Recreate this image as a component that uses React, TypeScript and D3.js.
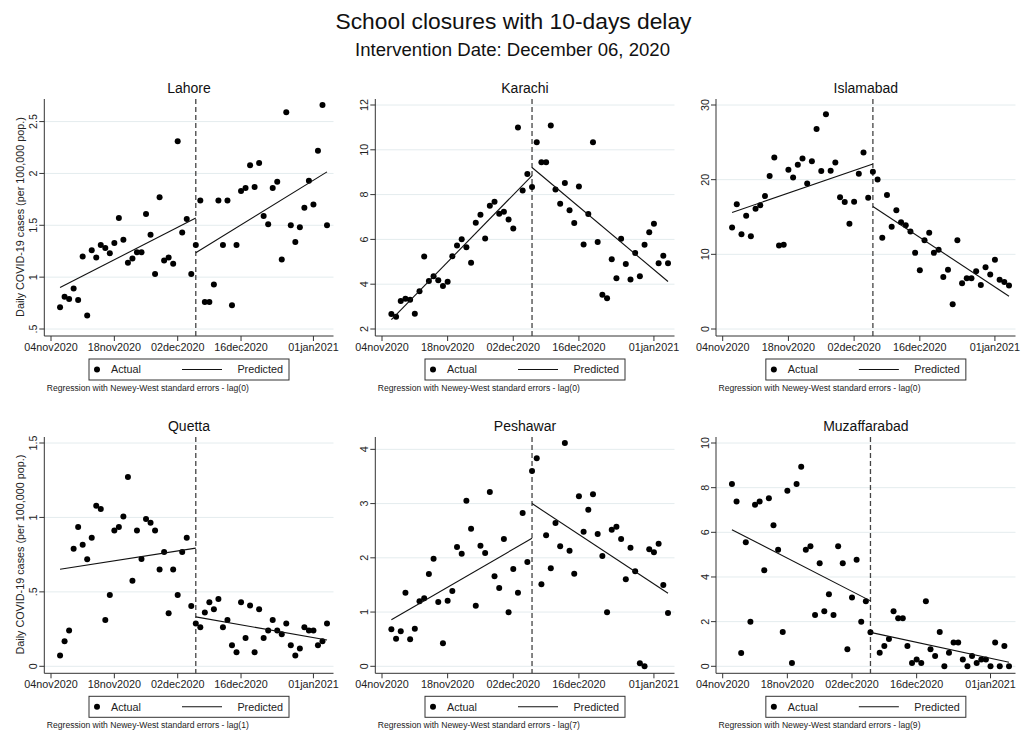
import React from "react";
import * as d3 from "d3";

const parseDate = d3.utcParse("%Y-%m-%d");
const AXIS_START = parseDate("2020-11-04") as Date;
const FIRST_DATE = parseDate("2020-11-06") as Date;
const INTERVENTION = parseDate("2020-12-06") as Date;
const xTickDates = ["2020-11-04", "2020-11-18", "2020-12-02", "2020-12-16", "2021-01-01"];

// Daily values, one per day from 06nov2020 (null = missing day)
const lahoreActual = [
  0.71, 0.81, 0.79, 0.89, 0.78, 1.2, 0.63, 1.26, 1.19, 1.31,
  1.28, 1.23, 1.33, 1.57, 1.36, 1.14, 1.18, 1.24, 1.24, 1.61,
  1.41, 1.03, 1.77, 1.16, 1.19, 1.13, 2.31, 1.43, 1.56, 1.03,
  1.31, 1.74, 0.76, 0.76, 0.93, 1.74, 1.31, 1.74, 0.73, 1.31,
  1.83, 1.86, 2.08, 1.87, 2.1, 1.59, 1.51, 1.86, 1.92, 1.17,
  2.59, 1.5, 1.34, 1.48, 1.67, 1.93, 1.7, 2.22, 2.66, 1.5,
];
const lahorePredPre = [0.9, 1.57];
const lahorePredPost = [1.235, 2.015];

const karachiActual = [
  2.67, 2.55, 3.25, 3.35, 3.31, 2.68, 3.69, 5.24, 4.14, 4.35,
  4.18, 3.92, 4.11, 5.25, 5.73, 6.01, 5.65, 4.96, 6.74, 7.1,
  6.04, 7.5, 7.68, 7.14, 7.23, 6.89, 6.49, 11.0, 8.18, 8.92,
  8.34, 10.34, 9.44, 9.44, 11.08, 8.23, 7.59, 8.52, 7.3, 6.73,
  8.36, 5.77, 7.13, 10.34, 5.88, 3.53, 3.37, 5.11, 4.27, 6.03,
  4.9, 4.21, 5.39, 4.35, 5.76, 6.32, 6.7, 4.93, 5.27, 4.93,
];
const karachiPredPre = [2.42, 8.85];
const karachiPredPost = [9.21, 4.12];

const islamabadActual = [
  13.59, 16.72, 12.7, 15.16, 12.43, 16.1, 16.59, 17.8, 20.48, 22.98,
  11.18, 11.27, 21.33, 20.3, 22.0, 22.85, 19.5, 22.45, 26.78, 21.15,
  28.75, 21.19, 22.31, 17.66, 17.0, 14.09, 17.04, 20.79, 23.65, 17.57,
  21.06, 20.03, 12.21, 17.93, 13.68, 15.92, 14.31, 13.91, 13.06, 10.2,
  7.87, 11.9, 12.88, 10.2, 10.6, 6.98, 7.92, 3.31, 11.9, 6.13,
  6.8, 6.8, 7.74, 5.9, 8.27, 7.29, 9.26, 6.58, 6.31, 5.82,
];
const islamabadPredPre = [15.61, 22.09];
const islamabadPredPost = [16.41, 4.39];

const quettaActual = [
  0.072, 0.168, 0.24, 0.79, 0.936, 0.817, 0.719, 0.864, 1.079, 1.057,
  0.311, 0.479, 0.913, 0.936, 1.007, 1.272, 0.575, 0.913, 0.72, 0.989,
  0.964, 0.913, 0.65, 0.767, 0.356, 0.65, 0.479, 0.767, 0.864, 0.405,
  0.287, 0.262, 0.361, 0.43, 0.383, 0.452, 0.262, 0.311, 0.141, 0.094,
  0.43, 0.19, 0.408, 0.094, 0.383, 0.19, 0.24, 0.311, 0.24, 0.215,
  0.287, 0.141, 0.072, 0.119, 0.262, 0.24, 0.24, 0.141, 0.168, 0.287,
];
const quettaPredPre = [0.652, 0.794];
const quettaPredPost = [0.332, 0.177];

const peshawarActual = [
  0.682, 0.51, 0.645, 1.358, 0.498, 0.694, 1.198, 1.253, 1.702, 1.985,
  1.186, 0.424, 1.21, 1.389, 2.2, 2.077, 3.054, 2.538, 1.118, 2.224,
  2.089, 3.214, 1.659, 1.444, 2.347, 0.995, 1.794, 1.358, 2.826, 1.923,
  3.6, 3.834, 1.512, 2.415, 1.806, 2.642, 2.212, 4.117, 2.132, 1.708,
  3.134, 2.482, 2.888, 3.171, 2.439, 2.034, 0.995, 2.519, 2.575, 2.347,
  1.604, 2.187, 1.751, 0.055, 0.0, 2.157, 2.101, 2.261, 1.499, 0.983,
];
const peshawarPredPre = [0.86, 2.36];
const peshawarPredPost = [3.0, 1.346];

const muzaffarabadActual: (number | null)[] = [
  8.16, 7.38, 0.6, 5.55, 1.99, 7.23, 7.38, 4.3, 7.53, 6.32,
  5.22, 1.54, 7.86, 0.15, 8.16, 8.94, 5.22, 5.38, 2.3, 4.62,
  2.47, 3.23, 2.3, 5.38, 4.62, 0.76, 3.08, 4.77, 2.0, 2.91,
  1.52, null, 0.61, 0.91, 1.22, 2.47, 2.15, 2.15, 0.91, 0.15,
  0.3, 0.15, 2.91, 0.76, 0.46, 1.54, 0, 0.61, 1.07, 1.07,
  0.3, 0, 0.46, 0.15, 0.3, 0.3, 0, 1.07, 0, 0.91, 0,
];
const muzaffarabadPredPre = [6.12, 2.93];
const muzaffarabadPredPost = [1.52, 0.18];

const lahoreTicks = [0.5, 1, 1.5, 2, 2.5];
const karachiTicks = [2, 4, 6, 8, 10, 12];
const islamabadTicks = [0, 10, 20, 30];
const quettaTicks = [0, 0.5, 1, 1.5];
const peshawarTicks = [0, 1, 2, 3, 4];
const muzaffarabadTicks = [0, 2, 4, 6, 8, 10];

const cityNames = ["Lahore", "Karachi", "Islamabad", "Quetta", "Peshawar", "Muzaffarabad"];
const lags = [0, 0, 0, 1, 7, 9];

const FONT = "'Liberation Sans', Arial, Helvetica, sans-serif";
const COLS = [
  { x0: 51, x1: 327 },
  { x0: 382, x1: 668 },
  { x0: 722.7, x1: 1009 },
];
const ROWS = [
  { y0: 105, y1: 329 },
  { y0: 443, y1: 666.3 },
];

const fmtTick = (v: number) => {
  const s = d3.format("~g")(v);
  return s.startsWith("0.") ? s.slice(1) : s;
};
const fmtDate = (d: Date) => d3.utcFormat("%d%b%Y")(d).toLowerCase();

type PanelProps = {
  title: string;
  actual: (number | null)[];
  pre: number[];
  post: number[];
  ticks: number[];
  lag: number;
  col: number;
  row: number;
};

function Panel({ title, actual, pre, post, ticks, lag, col, row }: PanelProps) {
  const C = COLS[col];
  const R = ROWS[row];
  const pts = actual
    .map((v, i) => ({ date: d3.utcDay.offset(FIRST_DATE, i), v }))
    .filter((p) => p.v !== null) as { date: Date; v: number }[];
  const lastDate = d3.utcDay.offset(FIRST_DATE, actual.length - 1);
  const x = d3.scaleUtc().domain([AXIS_START, lastDate]).range([C.x0, C.x1]);
  const all = [...ticks, ...pts.map((p) => p.v), ...pre, ...post];
  const y = d3
    .scaleLinear()
    .domain(d3.extent(all) as [number, number])
    .range([R.y1, R.y0]);
  const axisX = C.x0 - 6.7;
  const axisY = R.y1 + 7;
  const rightX = C.x1 + 6.5;
  const topY = R.y0 - 6;
  const cx = (C.x0 + C.x1) / 2;
  const line = d3
    .line<[Date, number]>()
    .x((d) => x(d[0]))
    .y((d) => y(d[1]));
  const preLine: [Date, number][] = [
    [FIRST_DATE, pre[0]],
    [INTERVENTION, pre[1]],
  ];
  const postLine: [Date, number][] = [
    [INTERVENTION, post[0]],
    [lastDate, post[1]],
  ];
  const legTop = R.y1 + 30;
  return (
    <g fontFamily={FONT}>
      <text x={cx} y={R.y0 - 12} fontSize={14} textAnchor="middle" fill="#111">
        {title}
      </text>
      {ticks.map((t) => (
        <line key={"g" + t} x1={axisX} x2={rightX} y1={y(t)} y2={y(t)} stroke="#e4ecee" strokeWidth={1} />
      ))}
      <line x1={axisX} x2={axisX} y1={topY} y2={axisY} stroke="#333" strokeWidth={1} />
      <line x1={axisX} x2={rightX} y1={axisY} y2={axisY} stroke="#333" strokeWidth={1} />
      {ticks.map((t) => (
        <g key={"t" + t}>
          <line x1={axisX - 5} x2={axisX} y1={y(t)} y2={y(t)} stroke="#333" />
          <text
            transform={`translate(${axisX - 7},${y(t)}) rotate(-90)`}
            fontSize={10.8}
            textAnchor="middle"
            fill="#222"
          >
            {fmtTick(t)}
          </text>
        </g>
      ))}
      {xTickDates.map((s) => {
        const d = parseDate(s) as Date;
        return (
          <g key={s}>
            <line x1={x(d)} x2={x(d)} y1={axisY} y2={axisY + 5} stroke="#333" />
            <text x={x(d)} y={axisY + 15} fontSize={10.8} textAnchor="middle" fill="#222">
              {fmtDate(d)}
            </text>
          </g>
        );
      })}
      <line
        x1={x(INTERVENTION)}
        x2={x(INTERVENTION)}
        y1={topY}
        y2={axisY}
        stroke="#444"
        strokeWidth={1.3}
        strokeDasharray="5,3"
      />
      {pts.map((p, i) => (
        <circle key={i} cx={x(p.date)} cy={y(p.v)} r={3} fill="#000" />
      ))}
      <path d={line(preLine) || ""} stroke="#111" strokeWidth={1.1} fill="none" />
      <path d={line(postLine) || ""} stroke="#111" strokeWidth={1.1} fill="none" />
      {col === 0 && (
        <text
          transform={`translate(24,${(R.y0 + R.y1) / 2}) rotate(-90)`}
          fontSize={10.8}
          textAnchor="middle"
          fill="#222"
        >
          Daily COVID-19 cases (per 100,000 pop.)
        </text>
      )}
      <rect x={cx - 100} y={legTop} width={200} height={21} fill="#fff" stroke="#333" strokeWidth={1} />
      <circle cx={cx - 92} cy={legTop + 10.5} r={3} fill="#000" />
      <text x={cx - 78} y={legTop + 14.3} fontSize={10.8} fill="#222">
        Actual
      </text>
      <line x1={cx - 7} x2={cx + 33} y1={legTop + 10.5} y2={legTop + 10.5} stroke="#111" strokeWidth={1.1} />
      <text x={cx + 94} y={legTop + 14.3} fontSize={10.8} textAnchor="end" fill="#222">
        Predicted
      </text>
      <text
        x={axisX + 2.5}
        y={R.y1 + 62}
        fontSize={8.4}
        fill="#222"
        textLength={202}
        lengthAdjust="spacingAndGlyphs"
      >
        {`Regression with Newey-West standard errors - lag(${lag})`}
      </text>
    </g>
  );
}

export default function App() {
  const panels = [
    { actual: lahoreActual, pre: lahorePredPre, post: lahorePredPost, ticks: lahoreTicks },
    { actual: karachiActual, pre: karachiPredPre, post: karachiPredPost, ticks: karachiTicks },
    { actual: islamabadActual, pre: islamabadPredPre, post: islamabadPredPost, ticks: islamabadTicks },
    { actual: quettaActual, pre: quettaPredPre, post: quettaPredPost, ticks: quettaTicks },
    { actual: peshawarActual, pre: peshawarPredPre, post: peshawarPredPost, ticks: peshawarTicks },
    { actual: muzaffarabadActual, pre: muzaffarabadPredPre, post: muzaffarabadPredPost, ticks: muzaffarabadTicks },
  ];
  return (
    <svg
      width={1031}
      height={732}
      style={{ position: "absolute", left: 0, top: 0, background: "#fff" }}
    >
      <rect x={0} y={0} width={1031} height={732} fill="#fff" />
      <text
        x={513.5}
        y={29}
        fontSize={21.5}
        textAnchor="middle"
        fontFamily={FONT}
        fill="#111"
        textLength={356}
        lengthAdjust="spacingAndGlyphs"
      >
        School closures with 10-days delay
      </text>
      <text
        x={512.5}
        y={56}
        fontSize={17.5}
        textAnchor="middle"
        fontFamily={FONT}
        fill="#111"
        textLength={315}
        lengthAdjust="spacingAndGlyphs"
      >
        Intervention Date: December 06, 2020
      </text>
      {panels.map((p, i) => (
        <Panel
          key={cityNames[i]}
          title={cityNames[i]}
          actual={p.actual}
          pre={p.pre}
          post={p.post}
          ticks={p.ticks}
          lag={lags[i]}
          col={i % 3}
          row={Math.floor(i / 3)}
        />
      ))}
    </svg>
  );
}
